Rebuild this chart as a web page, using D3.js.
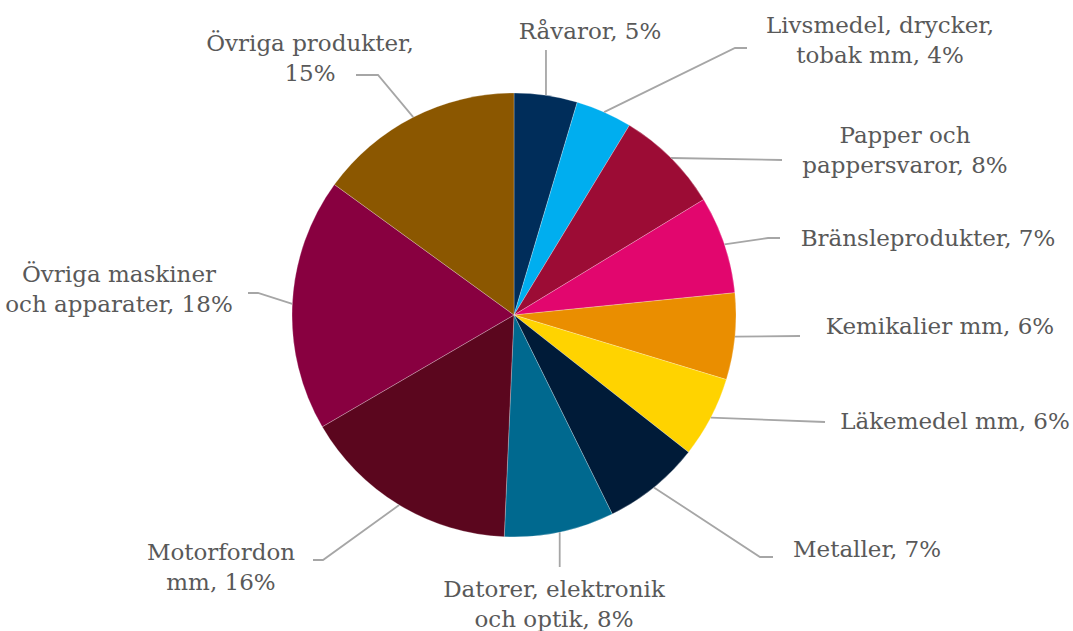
<!DOCTYPE html>
<html>
<head>
<meta charset="utf-8">
<script src="https://cdn.jsdelivr.net/npm/d3@7"></script>
<style>
  html, body { margin: 0; padding: 0; background: #fff; }
  svg { display: block; }
  .lbl { font-family: "DejaVu Serif", Georgia, serif; font-size: 23px; fill: #595959; }
</style>
</head>
<body>
<div id="chart"></div>
<script>
// slice names, clockwise from 12 o'clock
const categories = [
    "Råvaror",
    "Livsmedel, drycker, tobak mm",
    "Papper och pappersvaror",
    "Bränsleprodukter",
    "Kemikalier mm",
    "Läkemedel mm",
    "Metaller",
    "Datorer, elektronik och optik",
    "Motorfordon mm",
    "Övriga maskiner och apparater",
    "Övriga produkter"
];

// share in percent
const values = [4.6, 4.1, 7.6, 7.1, 6.3, 5.9, 7.1, 8.0, 15.9, 18.4, 15.0];

const colors = [
    "#002d5a", "#00aeef", "#9c0c35", "#e2066e", "#ea8e00", "#ffd300",
    "#001b38", "#00698f", "#5b061e", "#880040", "#8b5700"
];

// label placement: text centre / first baseline, words on first line, leader end
const labelLayout = [
    { tx: 590, ty: 39,  br: 0, ey: 50,  vertical: true },
    { tx: 880, ty: 33,  br: 2, ex: 747, ey: 48,  tail: 12 },
    { tx: 905, ty: 143, br: 2, ex: 782, ey: 160, tail: 0 },
    { tx: 928, ty: 246, br: 0, ex: 780, ey: 238, tail: 12 },
    { tx: 940, ty: 334, br: 0, ex: 800, ey: 336, tail: 0 },
    { tx: 955, ty: 429, br: 0, ex: 825, ey: 422, tail: 0 },
    { tx: 867, ty: 557, br: 0, ex: 773, ey: 557, tail: 13 },
    { tx: 554, ty: 597, br: 2, ey: 567, vertical: true },
    { tx: 221, ty: 560, br: 1, ex: 313, ey: 560, tail: 10 },
    { tx: 119, ty: 282, br: 2, ex: 248, ey: 293, tail: 10 },
    { tx: 310, ty: 51,  br: 2, ex: 356, ey: 75,  tail: 22 }
];

const width = 1073, height = 631;
const cx = 514, cy = 315, radius = 222;
const lineGap = 30;

const svg = d3.select("#chart")
    .append("svg")
    .attr("width", width)
    .attr("height", height);

const pie = d3.pie().sort(null).value(d => d);
const arcs = pie(values);

const arc = d3.arc().innerRadius(0).outerRadius(radius);
const edge = d3.arc().innerRadius(radius).outerRadius(radius);

const g = svg.append("g").attr("transform", `translate(${cx},${cy})`);

g.selectAll("path.slice")
    .data(arcs)
    .enter()
    .append("path")
    .attr("class", "slice")
    .attr("d", arc)
    .attr("fill", (d, i) => colors[i])
    .attr("stroke", "#fff")
    .attr("stroke-width", 0.25);

// leader lines from the slice edge to the label
svg.selectAll("path.leader")
    .data(arcs)
    .enter()
    .append("path")
    .attr("class", "leader")
    .attr("fill", "none")
    .attr("stroke", "#a6a6a6")
    .attr("stroke-width", 1.8)
    .attr("d", (d, i) => {
        const L = labelLayout[i];
        const [px, py] = edge.centroid(d);
        const sx = cx + px, sy = cy + py;
        if (L.vertical) return `M${sx},${sy}L${sx},${L.ey}`;
        const dir = L.ex > sx ? 1 : -1;
        const bx = L.ex - dir * L.tail;
        return `M${sx},${sy}L${bx},${L.ey}L${L.ex},${L.ey}`;
    });

// labels
const labels = svg.selectAll("text.lbl")
    .data(arcs)
    .enter()
    .append("text")
    .attr("class", "lbl")
    .attr("text-anchor", "middle");

labels.each(function (d, i) {
    const L = labelLayout[i];
    const words = (categories[i] + ", " + Math.round(values[i]) + "%").split(" ");
    const lines = L.br ? [words.slice(0, L.br).join(" "), words.slice(L.br).join(" ")] : [words.join(" ")];
    d3.select(this).selectAll("tspan")
        .data(lines)
        .enter()
        .append("tspan")
        .attr("x", L.tx)
        .attr("y", (t, k) => L.ty + k * lineGap)
        .text(t => t);
});
</script>
</body>
</html>
